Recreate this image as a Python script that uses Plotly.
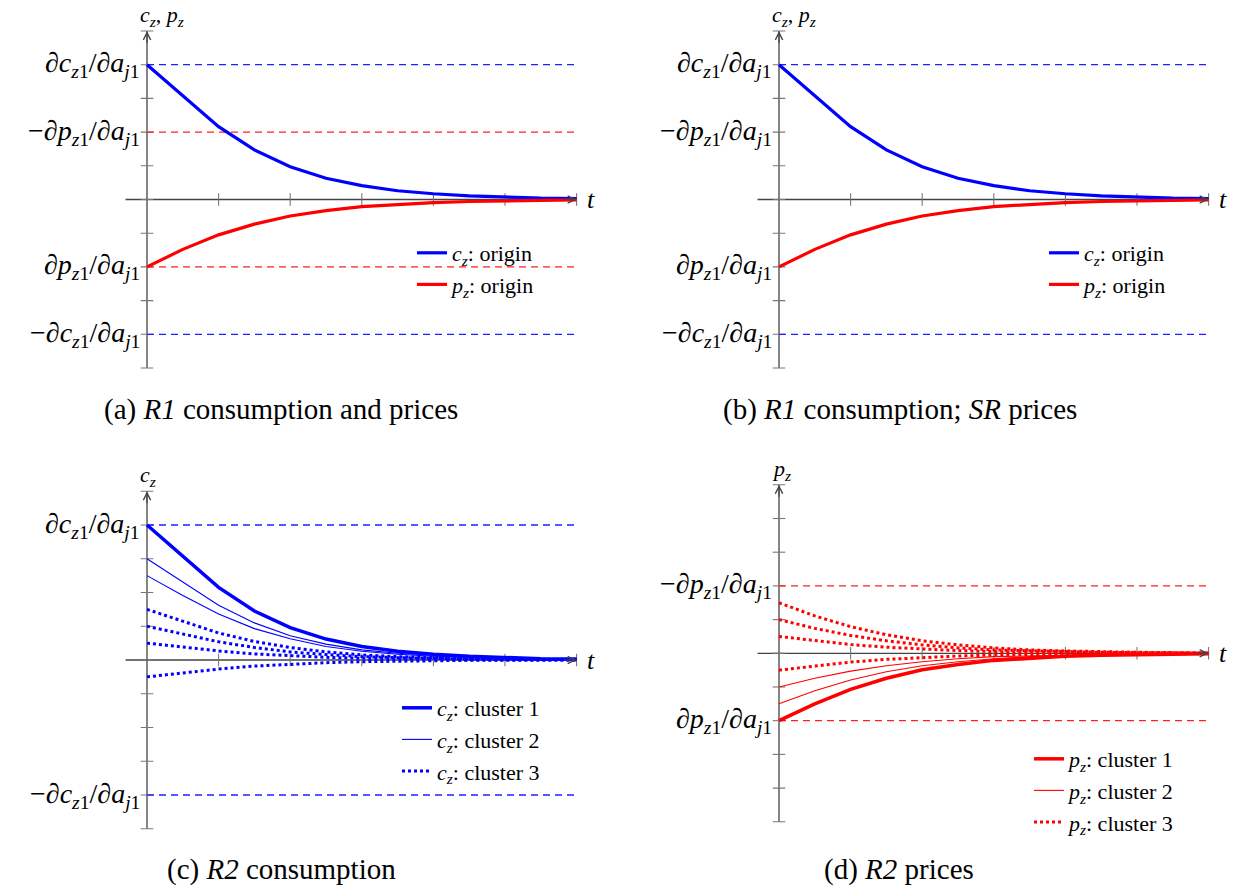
import plotly.graph_objects as go

W, H = 1242, 889
FONT = "Times New Roman, Tinos, Liberation Serif, serif"

# ---------------- data ----------------
t = list(range(13))                      # time steps
x_ticks = [2, 4, 6, 8, 10, 12]
y_ticks = list(range(-5, 6))

dc_level = 4.0      # dc_z1/da_j1
dp_level = -2.0     # dp_z1/da_j1

c_origin = [4.00, 3.07, 2.16, 1.47, 0.97, 0.63, 0.41, 0.26, 0.17, 0.11, 0.07, 0.04, 0.03]
p_origin = [-2.00, -1.48, -1.05, -0.73, -0.49, -0.33, -0.21, -0.14, -0.09, -0.06, -0.04, -0.02, -0.01]

c_cluster1 = [4.00, 3.06, 2.15, 1.45, 0.96, 0.62, 0.40, 0.26, 0.17, 0.11, 0.07, 0.04, 0.03]
c_cluster2 = [
    [3.00, 2.31, 1.62, 1.10, 0.72, 0.47, 0.30, 0.20, 0.13, 0.08, 0.05, 0.03, 0.02],
    [2.50, 1.91, 1.36, 0.93, 0.63, 0.40, 0.26, 0.17, 0.11, 0.07, 0.05, 0.03, 0.02],
]
c_cluster3 = [
    [1.50, 1.15, 0.80, 0.55, 0.37, 0.24, 0.15, 0.10, 0.06, 0.04, 0.03, 0.02, 0.01],
    [1.00, 0.77, 0.54, 0.37, 0.24, 0.16, 0.10, 0.07, 0.04, 0.03, 0.02, 0.01, 0.01],
    [0.50, 0.38, 0.27, 0.18, 0.12, 0.08, 0.05, 0.03, 0.02, 0.01, 0.01, 0.01, 0.00],
    [-0.50, -0.38, -0.27, -0.18, -0.12, -0.08, -0.05, -0.03, -0.02, -0.01, -0.01, -0.01, 0.00],
]

p_cluster1 = [-2.00, -1.50, -1.07, -0.74, -0.49, -0.33, -0.21, -0.14, -0.09, -0.06, -0.04, -0.02, -0.01]
p_cluster2 = [
    [-1.50, -1.11, -0.79, -0.55, -0.37, -0.25, -0.16, -0.10, -0.07, -0.04, -0.03, -0.02, -0.01],
    [-1.00, -0.74, -0.53, -0.37, -0.25, -0.16, -0.10, -0.07, -0.04, -0.03, -0.02, -0.01, -0.01],
]
p_cluster3 = [
    [1.50, 1.11, 0.79, 0.55, 0.37, 0.25, 0.16, 0.10, 0.07, 0.04, 0.03, 0.02, 0.01],
    [1.00, 0.74, 0.53, 0.37, 0.25, 0.16, 0.10, 0.07, 0.04, 0.03, 0.02, 0.01, 0.01],
    [0.50, 0.37, 0.26, 0.18, 0.12, 0.08, 0.05, 0.03, 0.02, 0.01, 0.01, 0.01, 0.00],
    [-0.50, -0.37, -0.26, -0.18, -0.12, -0.08, -0.05, -0.03, -0.02, -0.01, -0.01, -0.01, 0.00],
]

captions = [
    "(a) <i>R1</i> consumption and prices",
    "(b) <i>R1</i> consumption; <i>SR</i> prices",
    "(c) <i>R2</i> consumption",
    "(d) <i>R2</i> prices",
]

# ---------------- text helpers ----------------
def deriv(var):
    return ("∂<i>%s</i><sub><i>z</i>1</sub>/∂<i>a</i><sub><i>j</i>1</sub>" % var)

LBL_DC = deriv("c")
LBL_MDC = "−" + deriv("c")
LBL_DP = deriv("p")
LBL_MDP = "−" + deriv("p")
CZ = "<i>c</i><sub><i>z</i></sub>"
PZ = "<i>p</i><sub><i>z</i></sub>"

BLUE = "#0000ff"
RED = "#ff0000"
BLUE_D = "#2020ff"
RED_D = "#ff2020"
AXIS = "#444444"
TICK = "#777777"

# panel geometry (pixel position of origin, pixel per unit)
UX = 35.8
panels = [
    dict(ox=147, oy=199.5, uy=33.7, ylabel=CZ + ", " + PZ, cap_x=281, cap_y=409,
         levels=[(dc_level, BLUE_D), (-dp_level, RED_D), (dp_level, RED_D), (-dc_level, BLUE_D)],
         labels=[(dc_level, LBL_DC), (-dp_level, LBL_MDP), (dp_level, LBL_DP), (-dc_level, LBL_MDC)],
         leg=(412, 232)),
    dict(ox=779, oy=199.5, uy=33.7, ylabel=CZ + ", " + PZ, cap_x=900, cap_y=409,
         levels=[(dc_level, BLUE_D), (-dc_level, BLUE_D)],
         labels=[(dc_level, LBL_DC), (-dp_level, LBL_MDP), (dp_level, LBL_DP), (-dc_level, LBL_MDC)],
         leg=(1044, 232)),
    dict(ox=147, oy=660, uy=33.75, ylabel=CZ, cap_x=281, cap_y=869,
         levels=[(dc_level, BLUE_D), (-dc_level, BLUE_D)],
         labels=[(dc_level, LBL_DC), (-dc_level, LBL_MDC)],
         leg=(397, 687)),
    dict(ox=779, oy=653.3, uy=33.7, ylabel=PZ, cap_x=899, cap_y=869,
         levels=[(-dp_level, RED_D), (dp_level, RED_D)],
         labels=[(-dp_level, LBL_MDP), (dp_level, LBL_DP)],
         leg=(1029, 738)),
]

XR = [-0.8, 12.8]
YR = [-5.5, 5.5]

fig = go.Figure()
layout = dict(width=W, height=H, margin=dict(l=0, r=0, t=0, b=0),
              paper_bgcolor="white", plot_bgcolor="white",
              font=dict(family=FONT, size=22, color="black"),
              hovermode=False)
annotations = []

for i, pnl in enumerate(panels):
    n = i + 1
    xa = "x" if n == 1 else "x%d" % n
    ya = "y" if n == 1 else "y%d" % n
    xkey = "xaxis" if n == 1 else "xaxis%d" % n
    ykey = "yaxis" if n == 1 else "yaxis%d" % n
    lkey = "legend" if n == 1 else "legend%d" % n

    x0 = (pnl["ox"] + UX * XR[0]) / W
    x1 = (pnl["ox"] + UX * XR[1]) / W
    ybot = pnl["oy"] - pnl["uy"] * YR[0]
    ytop = pnl["oy"] - pnl["uy"] * YR[1]
    layout[xkey] = dict(domain=[x0, x1], range=XR, visible=False, anchor=ya, fixedrange=True)
    layout[ykey] = dict(domain=[1 - ybot / H, 1 - ytop / H], range=YR, visible=False,
                        anchor=xa, fixedrange=True)
    layout[lkey] = dict(x=pnl["leg"][0] / W, y=1 - pnl["leg"][1] / H, xanchor="left", yanchor="top",
                        bgcolor="rgba(0,0,0,0)", borderwidth=0, tracegroupgap=0,
                        font=dict(family=FONT, size=22))

    common = dict(xaxis=xa, yaxis=ya, hoverinfo="skip")

    # axis lines
    fig.add_trace(go.Scatter(x=[XR[0] + 0.2, 12], y=[0, 0], mode="lines",
                             line=dict(color=AXIS, width=1.3), showlegend=False, **common))
    fig.add_trace(go.Scatter(x=[0, 0], y=[-5, 5], mode="lines",
                             line=dict(color=AXIS, width=1.3), showlegend=False, **common))
    # ticks
    fig.add_trace(go.Scatter(x=[0] * len(y_ticks), y=y_ticks, mode="markers",
                             marker=dict(symbol="line-ew", size=9, line=dict(color=TICK, width=1.1)),
                             showlegend=False, **common))
    fig.add_trace(go.Scatter(x=x_ticks, y=[0] * len(x_ticks), mode="markers",
                             marker=dict(symbol="line-ns", size=9, line=dict(color=TICK, width=1.1)),
                             showlegend=False, **common))
    # reference levels
    for lv, col in pnl["levels"]:
        fig.add_trace(go.Scatter(x=[0, 12], y=[lv, lv], mode="lines",
                                 line=dict(color=col, width=1.3, dash="7px,5px"),
                                 showlegend=False, **common))

    # curves
    if n in (1, 2):
        fig.add_trace(go.Scatter(x=t, y=c_origin, mode="lines", name=CZ + ": origin",
                                 line=dict(color=BLUE, width=3.2), legend=lkey, **common))
        fig.add_trace(go.Scatter(x=t, y=p_origin, mode="lines", name=PZ + ": origin",
                                 line=dict(color=RED, width=3.2), legend=lkey, **common))
    else:
        col = BLUE if n == 3 else RED
        v = CZ if n == 3 else PZ
        cl1 = c_cluster1 if n == 3 else p_cluster1
        cl2 = c_cluster2 if n == 3 else p_cluster2
        cl3 = c_cluster3 if n == 3 else p_cluster3
        for k, ys in enumerate(cl3):
            fig.add_trace(go.Scatter(x=t, y=ys, mode="lines", name=v + ": cluster 3",
                                     legendgroup="c3_%d" % n, legendrank=3, showlegend=(k == 0),
                                     line=dict(color=col, width=3, dash="dot"), legend=lkey, **common))
        for k, ys in enumerate(cl2):
            fig.add_trace(go.Scatter(x=t, y=ys, mode="lines", name=v + ": cluster 2",
                                     legendgroup="c2_%d" % n, legendrank=2, showlegend=(k == 0),
                                     line=dict(color=col, width=1.1), legend=lkey, **common))
        fig.add_trace(go.Scatter(x=t, y=cl1, mode="lines", name=v + ": cluster 1",
                                 legendgroup="c1_%d" % n, legendrank=1,
                                 line=dict(color=col, width=3.5), legend=lkey, **common))

    # arrows
    annotations.append(dict(x=12, y=0, ax=11.6, ay=0, xref=xa, yref=ya, axref=xa, ayref=ya,
                            showarrow=True, arrowhead=5, arrowsize=1.2, arrowwidth=1.2,
                            arrowcolor=AXIS, text=""))
    annotations.append(dict(x=0, y=5, ax=0, ay=4.6, xref=xa, yref=ya, axref=xa, ayref=ya,
                            showarrow=True, arrowhead=5, arrowsize=1.2, arrowwidth=1.2,
                            arrowcolor=AXIS, text=""))
    # axis labels
    annotations.append(dict(x=12, y=0, xref=xa, yref=ya, text="<i>t</i>", showarrow=False,
                            xanchor="left", yanchor="middle", xshift=8, font=dict(size=26)))
    annotations.append(dict(x=0, y=5, xref=xa, yref=ya, text=pnl["ylabel"], showarrow=False,
                            xanchor="left", yanchor="middle", xshift=-9, yshift=15, font=dict(size=22)))
    # tick labels
    for lv, txt in pnl["labels"]:
        annotations.append(dict(x=0, y=lv, xref=xa, yref=ya, text=txt, showarrow=False,
                                xanchor="right", yanchor="middle", xshift=-5, font=dict(size=28)))
    # caption
    annotations.append(dict(x=pnl["cap_x"] / W, y=1 - pnl["cap_y"] / H, xref="paper", yref="paper",
                            text=captions[i], showarrow=False, xanchor="center", yanchor="middle",
                            font=dict(size=29)))

layout["annotations"] = annotations
fig.update_layout(**layout)
fig.write_html("out.html")
